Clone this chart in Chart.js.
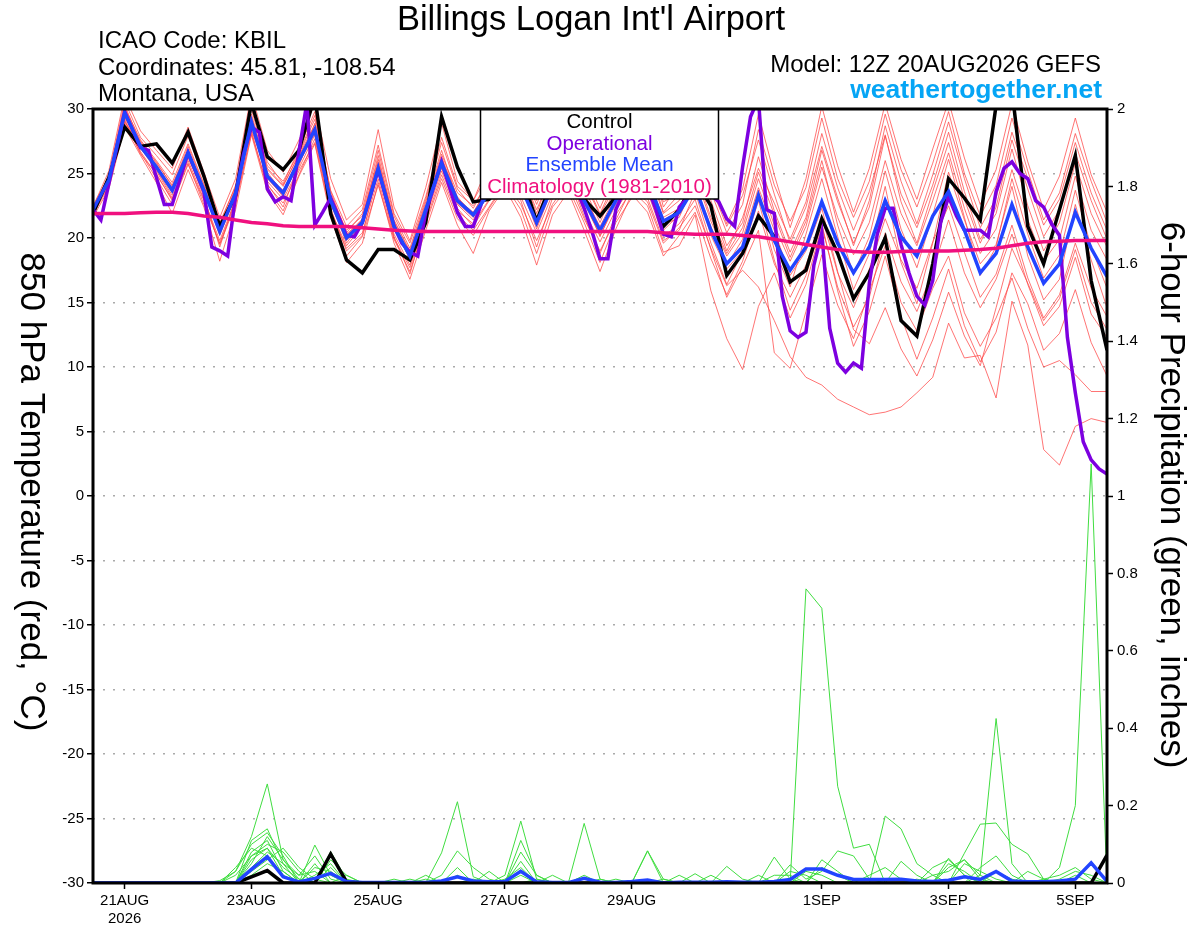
<!DOCTYPE html>
<html>
<head>
<meta charset="utf-8">
<script src="https://cdn.jsdelivr.net/npm/chart.js@4.4.1/dist/chart.umd.min.js"></script>
<style>
  html, body { margin: 0; padding: 0; background: #fff; }
  canvas { display: block; }
</style>
</head>
<body>
<canvas id="chart" width="1200" height="927"></canvas>
<script>
// GEFS run 12Z 20AUG2026, steps every 6 h from hour 0 to hour 384
const tickHours = [12, 60, 108, 156, 204, 276, 324, 372];
const tickLabels = [['21AUG', '2026'], '23AUG', '25AUG', '27AUG', '29AUG', '1SEP', '3SEP', '5SEP'];
const tempTicks = [-30, -25, -20, -15, -10, -5, 0, 5, 10, 15, 20, 25, 30];
const precipTicks = [0, 0.2, 0.4, 0.6, 0.8, 1, 1.2, 1.4, 1.6, 1.8, 2];

// 850 hPa temperature, deg C
const controlTemp = [
  21.9, 24.7, 28.6, 27.1, 27.3, 25.8, 28.2, 24.8,
  20.9, 23.3, 30.5, 26.3, 25.3, 26.8, 31.0, 21.9,
  18.3, 17.3, 19.1, 19.1, 18.3, 21.2, 29.4, 25.5,
  22.8, 23.0, 24.5, 25.0, 21.3, 24.5, 25.5, 23.0,
  21.7, 23.2, 25.0, 24.5, 20.9, 22.2, 24.5, 22.5,
  17.1, 18.8, 21.7, 20.1, 16.6, 17.5, 21.5, 18.8,
  15.3, 17.3, 20.0, 13.6, 12.4, 18.0, 24.6, 23.1,
  21.4, 30.3, 31.5, 20.9, 18.0, 22.2, 26.4, 16.7,
  11.3
];
const meanTemp = [
  22.2, 24.5, 29.7, 27.1, 25.5, 23.7, 26.6, 23.7,
  20.5, 23.5, 29.0, 24.8, 23.5, 26.0, 28.4, 22.9,
  20.0, 21.2, 25.4, 20.9, 18.6, 22.2, 25.8, 22.9,
  21.8, 23.5, 25.0, 24.0, 21.2, 24.0, 25.3, 22.9,
  20.6, 22.9, 24.8, 24.5, 21.3, 22.0, 24.0, 20.6,
  18.0, 19.3, 23.3, 19.8, 17.5, 19.3, 22.8, 19.6,
  17.3, 19.3, 22.9, 20.1, 18.6, 21.7, 23.6, 20.6,
  17.3, 18.8, 22.6, 19.3, 16.5, 18.0, 22.0, 19.2,
  17.0
];
const climoTemp = [
  21.9, 21.9, 21.9, 21.95, 22.0, 22.0, 21.9, 21.7,
  21.6, 21.4, 21.2, 21.1, 20.95, 20.9, 20.9, 20.9,
  20.9, 20.8, 20.7, 20.6, 20.55, 20.5, 20.5, 20.5,
  20.5, 20.5, 20.5, 20.5, 20.5, 20.5, 20.5, 20.5,
  20.5, 20.5, 20.5, 20.5, 20.4, 20.35, 20.3, 20.3,
  20.3, 20.2, 20.1, 19.9, 19.7, 19.5, 19.3, 19.1,
  18.95, 18.9, 18.9, 18.95, 19.0, 19.0, 19.0, 19.05,
  19.1, 19.2, 19.4, 19.6, 19.7, 19.75, 19.8, 19.8,
  19.8
];

// operational run is 3-hourly, listed where its line turns
const opHours = [
  0, 3, 12, 18, 21, 27, 30, 36, 42, 45, 48, 51, 54, 57, 60, 63,
  66, 69, 72, 75, 81, 84, 87, 90, 96, 99, 102, 108, 114, 117, 120, 123,
  126, 132, 138, 141, 144, 147, 150, 156, 162, 168, 174, 180, 186, 189, 192, 195,
  198, 204, 210, 213, 216, 219, 222, 228, 234, 237, 240, 243, 246, 249, 252, 255,
  258, 261, 264, 267, 270, 273, 276, 279, 282, 285, 288, 291, 294, 297, 300, 303,
  306, 309, 312, 315, 318, 321, 324, 327, 330, 333, 336, 339, 342, 345, 348, 351,
  354, 357, 360, 363, 366, 369, 372, 375, 378, 381, 384
];
const opTemp = [
  22.2, 21.4, 29.8, 27.0, 26.8, 22.6, 22.6, 26.6, 23.6, 19.3, 19.0, 18.6, 23.3, 26.5, 28.6, 28.2,
  23.8, 22.8, 23.2, 22.9, 30.5, 21.0, 22.0, 23.1, 20.2, 20.1, 21.2, 25.3, 20.9, 19.6, 18.9, 18.6,
  22.0, 25.9, 22.0, 20.9, 20.9, 22.6, 24.5, 26.0, 24.0, 23.5, 26.0, 25.5, 22.3, 20.5, 18.4, 18.4,
  22.2, 25.0, 24.0, 22.3, 20.3, 20.1, 22.4, 23.8, 23.4, 22.8, 21.5, 20.9, 25.5, 29.4, 30.8, 22.2,
  21.9, 15.5, 12.8, 12.3, 12.7, 17.9, 20.4, 13.0, 10.3, 9.6, 10.3, 9.9, 16.5, 20.3, 22.3, 22.3,
  19.5, 17.3, 15.5, 14.8, 16.7, 21.2, 23.2, 21.7, 20.6, 20.6, 20.6, 20.1, 23.6, 25.4, 25.9, 25.0,
  24.6, 22.9, 22.4, 21.1, 20.2, 12.3, 8.0, 4.2, 2.8, 2.1, 1.7
];

// ensemble members, 850 hPa temperature
const memberTemps = [
  [22.0, 24.9, 30.6, 27.8, 26.4, 24.9, 27.9, 24.6,
   21.0, 24.1, 30.8, 25.9, 24.2, 26.9, 29.8, 23.6,
   20.4, 21.9, 26.8, 21.7, 19.2, 23.0, 27.4, 23.8,
   22.3, 24.6, 27.1, 25.2, 21.9, 25.3, 27.6, 23.9,
   21.2, 24.0, 27.5, 25.9, 22.0, 23.4, 27.0, 22.9,
   19.4, 21.2, 26.3, 22.1, 18.9, 21.6, 26.8, 22.8,
   19.6, 22.4, 27.9, 23.4, 20.8, 24.1, 28.2, 23.6,
   19.9, 21.9, 26.9, 22.5, 19.0, 21.2, 25.8, 21.9,
   19.3],
  [21.8, 24.0, 29.1, 26.5, 25.0, 22.9, 25.8, 22.6,
   19.6, 22.8, 28.1, 24.1, 22.7, 25.2, 27.4, 21.9,
   19.2, 20.4, 24.6, 20.0, 17.7, 21.3, 24.9, 21.8,
   20.6, 22.4, 24.3, 22.6, 19.8, 22.6, 24.4, 21.5,
   19.0, 21.4, 23.9, 22.8, 19.6, 20.8, 22.5, 19.2,
   16.3, 17.5, 16.2, 13.6, 10.8, 9.2, 8.6, 7.5,
   6.9, 6.3, 6.5, 6.9, 8.0, 9.2, 13.4, 10.7,
   10.9, 7.6, 15.1, 11.7, 3.6, 2.4, 5.4, 6.0,
   5.7],
  [22.3, 24.3, 29.9, 27.0, 25.2, 23.1, 26.0, 23.0,
   19.8, 23.0, 29.3, 24.4, 23.0, 25.4, 28.0, 22.1,
   19.4, 20.9, 25.0, 20.3, 17.9, 21.6, 25.2, 22.1,
   21.1, 23.0, 24.6, 23.2, 20.4, 23.4, 24.8, 22.1,
   19.7, 22.2, 24.0, 23.6, 20.1, 21.1, 23.0, 19.1,
   15.4, 17.8, 20.6, 11.1, 9.9, 14.3, 18.7, 14.8,
   12.2, 15.9, 19.4, 15.0, 12.8, 16.1, 18.6, 14.2,
   11.6, 13.8, 16.9, 13.0, 10.0, 10.5, 9.4, 8.1,
   8.1],
  [22.1, 24.7, 30.3, 27.4, 25.9, 24.0, 27.1, 24.1,
   20.8, 23.8, 29.6, 25.3, 24.0, 26.5, 29.2, 23.3,
   20.6, 21.7, 26.1, 21.4, 19.0, 22.6, 26.5, 23.5,
   22.5, 24.4, 26.3, 25.1, 22.2, 25.0, 27.0, 24.3,
   21.8, 24.1, 27.3, 26.6, 22.8, 23.5, 27.8, 23.6,
   20.4, 22.6, 28.4, 24.1, 21.3, 23.9, 29.3, 24.6,
   21.6, 24.4, 29.6, 25.3, 22.4, 25.8, 29.8, 25.0,
   21.7, 24.1, 29.3, 25.2, 21.4, 23.5, 28.1, 24.4,
   21.2],
  [21.6, 23.8, 28.6, 26.4, 24.3, 21.9, 25.3, 22.4,
   18.2, 22.2, 28.0, 23.6, 21.8, 24.8, 27.3, 21.6,
   18.1, 19.6, 24.3, 19.6, 16.8, 20.6, 24.3, 21.0,
   18.8, 22.1, 23.9, 21.6, 17.9, 21.8, 23.6, 20.6,
   17.4, 20.7, 23.4, 22.0, 18.6, 20.2, 22.0, 18.4,
   15.6, 18.2, 22.1, 18.0, 15.4, 17.9, 21.6, 17.3,
   14.6, 17.6, 21.5, 18.3, 16.1, 19.7, 22.5, 18.9,
   15.4, 17.2, 21.0, 16.9, 13.8, 15.6, 19.6, 16.1,
   13.9],
  [22.4, 25.2, 31.0, 28.3, 26.8, 25.4, 28.6, 25.1,
   21.6, 24.6, 31.2, 26.8, 25.1, 27.6, 30.4, 24.6,
   21.4, 22.6, 28.4, 22.4, 19.8, 23.9, 28.9, 24.4,
   22.9, 25.8, 28.6, 26.3, 22.9, 26.1, 29.1, 25.0,
   22.3, 25.2, 28.9, 27.4, 22.4, 24.2, 29.4, 24.8,
   21.1, 23.8, 29.6, 24.9, 20.8, 24.6, 30.2, 25.6,
   22.0, 25.4, 30.4, 26.1, 23.0, 26.9, 30.6, 26.2,
   22.6, 25.3, 30.4, 25.9, 22.2, 24.8, 29.3, 24.9,
   22.0],
  [22.0, 24.4, 29.4, 26.9, 25.6, 23.8, 26.9, 23.8,
   20.3, 23.2, 28.7, 24.6, 23.3, 25.8, 28.1, 22.6,
   19.8, 21.0, 25.1, 20.7, 18.4, 22.0, 25.6, 22.6,
   21.4, 23.6, 25.4, 24.3, 20.9, 24.1, 25.8, 22.7,
   20.2, 22.6, 24.7, 24.9, 21.0, 21.6, 24.4, 20.2,
   17.6, 19.0, 23.7, 19.1, 16.2, 20.3, 24.6, 20.1,
   16.0, 18.8, 24.0, 18.1, 14.9, 19.6, 25.1, 21.4,
   18.0, 19.5, 24.0, 18.6, 15.2, 16.8, 22.6, 18.3,
   14.6],
  [22.2, 24.6, 29.0, 27.2, 25.3, 23.3, 26.2, 23.5,
   20.9, 23.6, 28.4, 24.9, 23.7, 26.2, 28.6, 23.1,
   20.2, 21.3, 25.8, 21.1, 18.7, 22.4, 26.1, 23.2,
   21.7, 23.3, 25.8, 23.9, 21.4, 24.4, 26.3, 23.4,
   20.5, 22.8, 25.6, 24.4, 21.6, 22.3, 24.9, 21.3,
   18.6, 20.4, 24.6, 21.0, 18.2, 20.9, 25.5, 21.6,
   18.7, 21.2, 26.0, 21.9, 19.4, 22.9, 26.6, 22.3,
   18.8, 20.7, 25.3, 21.4, 18.2, 19.9, 24.8, 20.6,
   18.3],
  [21.9, 24.2, 29.2, 26.7, 24.9, 23.0, 26.4, 23.2,
   19.3, 23.1, 29.1, 24.2, 22.4, 25.6, 28.9, 22.3,
   19.0, 20.2, 25.3, 20.1, 17.2, 21.4, 25.9, 22.3,
   20.9, 22.9, 25.2, 22.9, 19.3, 23.1, 25.0, 21.7,
   18.8, 21.8, 23.7, 22.5, 18.9, 19.4, 21.8, 15.9,
   12.2, 9.8, 14.7, 17.3, 13.8, 16.4, 20.9, 16.2,
   13.1, 15.4, 20.4, 16.6, 14.3, 17.4, 21.4, 17.3,
   14.6, 16.8, 20.3, 16.4, 13.2, 14.7, 18.5, 14.1,
   12.3],
  [22.5, 24.8, 30.1, 27.6, 26.0, 24.3, 27.3, 24.2,
   21.2, 24.0, 30.0, 25.6, 24.4, 26.6, 29.5, 23.7,
   20.9, 22.2, 27.2, 21.9, 19.6, 23.2, 27.8, 24.0,
   22.9, 25.1, 27.6, 25.6, 22.6, 25.7, 28.4, 24.6,
   21.9, 24.6, 28.2, 26.9, 23.1, 24.1, 28.6, 24.0,
   20.9, 23.3, 27.6, 23.4, 19.6, 22.4, 27.1, 23.1,
   19.4, 22.9, 28.7, 24.4, 21.1, 24.9, 29.0, 24.6,
   20.8, 23.1, 28.2, 24.6, 21.0, 23.0, 27.4, 23.5,
   20.6],
  [22.0, 24.1, 28.9, 26.6, 24.6, 22.6, 25.7, 22.9,
   19.5, 22.6, 28.3, 23.8, 22.1, 24.9, 27.7, 22.0,
   18.6, 20.1, 24.1, 19.9, 17.4, 21.1, 24.6, 21.5,
   20.2, 22.3, 24.1, 22.2, 18.8, 22.4, 23.9, 21.2,
   18.1, 21.2, 23.1, 23.1, 19.8, 20.6, 23.6, 19.6,
   16.4, 18.9, 22.9, 18.3, 14.4, 17.1, 21.1, 15.9,
   11.6, 14.3, 18.6, 13.9, 10.6, 13.8, 17.6, 13.2,
   10.4, 12.7, 17.3, 14.9, 11.3, 12.6, 16.0, 11.9,
   9.3],
  [22.3, 24.5, 29.6, 27.3, 25.7, 23.6, 26.5, 23.9,
   20.6, 23.9, 29.4, 25.1, 23.5, 26.3, 28.6, 23.0,
   20.1, 21.5, 26.4, 21.3, 18.9, 22.8, 26.8, 23.0,
   22.0, 24.0, 26.8, 24.6, 21.6, 24.8, 26.9, 23.2,
   20.9, 23.3, 26.4, 25.4, 21.9, 22.9, 26.2, 22.4,
   19.0, 21.6, 25.4, 22.7, 19.9, 22.8, 28.1, 23.9,
   20.6, 23.6, 28.0, 22.8, 19.6, 23.6, 27.4, 23.0,
   19.6, 22.4, 27.6, 23.8, 20.1, 22.2, 26.6, 22.9,
   19.9],
  [21.8, 24.4, 29.8, 27.0, 25.4, 23.5, 26.7, 23.6,
   20.2, 23.4, 28.9, 24.7, 23.2, 25.9, 28.3, 22.8,
   19.6, 21.2, 25.6, 21.0, 18.3, 22.1, 25.4, 22.7,
   21.6, 23.8, 25.7, 24.1, 20.7, 23.9, 26.1, 23.0,
   20.1, 22.9, 25.2, 24.2, 20.6, 21.8, 24.1, 20.9,
   17.9, 19.9, 23.9, 20.6, 17.1, 19.0, 22.3, 17.4,
   12.9, 11.8, 14.6, 11.4, 9.3, 12.1, 15.8, 12.4,
   10.1, 14.6, 19.2, 16.5, 13.6, 15.3, 19.1, 15.0,
   12.9],
  [22.1, 24.6, 29.3, 27.5, 25.8, 24.1, 26.8, 23.7,
   20.4, 23.7, 29.2, 25.4, 24.1, 26.4, 28.8, 23.4,
   20.3, 21.4, 25.9, 21.2, 18.5, 22.3, 26.3, 23.1,
   21.9, 24.2, 26.1, 24.8, 21.1, 24.6, 26.5, 23.6,
   20.6, 23.1, 25.9, 25.0, 21.4, 22.1, 25.2, 21.6,
   18.8, 20.8, 25.1, 21.8, 18.5, 21.3, 26.0, 21.0,
   17.2, 20.1, 25.2, 20.7, 17.7, 21.8, 26.1, 21.6,
   17.1, 19.3, 24.6, 20.3, 16.9, 18.7, 23.7, 19.3,
   16.1]
];

// 6-hour precipitation, inches
const controlPrecip = [
  0, 0, 0, 0, 0, 0, 0, 0,
  0, 0, 0.016, 0.032, 0, 0, 0, 0.075,
  0.003, 0, 0, 0, 0, 0, 0, 0,
  0, 0, 0, 0, 0, 0, 0, 0,
  0, 0, 0, 0, 0, 0, 0, 0,
  0, 0, 0, 0, 0, 0, 0, 0,
  0, 0, 0, 0, 0, 0, 0, 0,
  0, 0, 0, 0, 0, 0, 0, 0,
  0.072
];
const meanPrecip = [
  0, 0, 0, 0, 0, 0, 0, 0,
  0, 0, 0.035, 0.068, 0.016, 0.003, 0.012, 0.025,
  0.004, 0.001, 0.001, 0.001, 0.001, 0.001, 0.005, 0.016,
  0.005, 0.003, 0.004, 0.03, 0.003, 0.001, 0.001, 0.012,
  0.002, 0.001, 0.004, 0.008, 0, 0.002, 0.002, 0.002,
  0.003, 0.002, 0.002, 0.004, 0.009, 0.036, 0.036, 0.02,
  0.009, 0.009, 0.009, 0.01, 0.005, 0.004, 0.007, 0.016,
  0.009, 0.03, 0.005, 0.003, 0.003, 0.005, 0.01, 0.052,
  0.004
];
const memberPrecip = [
  [0, 0, 0, 0, 0, 0, 0, 0,
   0, 0.03, 0.12, 0.256, 0.06, 0.01, 0, 0,
   0, 0, 0, 0, 0, 0, 0.078, 0.21,
   0.016, 0, 0, 0, 0, 0, 0, 0,
   0, 0, 0, 0, 0, 0, 0, 0,
   0, 0, 0, 0, 0, 0.76, 0.71, 0.25,
   0.09, 0.10, 0, 0, 0, 0, 0, 0,
   0, 0, 0, 0, 0, 0, 0, 0,
   0],
  [0, 0, 0, 0, 0, 0, 0, 0,
   0, 0, 0.11, 0.14, 0.05, 0, 0.098, 0.02,
   0, 0, 0, 0, 0, 0, 0, 0,
   0, 0, 0.02, 0.16, 0.01, 0, 0, 0,
   0, 0, 0, 0, 0, 0, 0, 0,
   0, 0, 0, 0, 0, 0, 0, 0,
   0, 0, 0.173, 0.14, 0.05, 0.02, 0, 0,
   0, 0, 0, 0, 0, 0, 0, 0,
   0],
  [0, 0, 0, 0, 0, 0, 0, 0,
   0, 0, 0.08, 0.11, 0.03, 0, 0, 0.081,
   0.01, 0, 0, 0, 0, 0, 0.02, 0.083,
   0.04, 0.01, 0, 0, 0, 0, 0, 0.154,
   0.01, 0, 0, 0, 0, 0, 0, 0,
   0, 0, 0, 0, 0, 0, 0, 0,
   0, 0, 0, 0, 0, 0, 0, 0,
   0.02, 0.425, 0.05, 0, 0, 0, 0, 0,
   0],
  [0, 0, 0, 0, 0, 0, 0, 0,
   0, 0.04, 0.09, 0.07, 0.02, 0, 0.05, 0,
   0, 0, 0, 0, 0, 0, 0, 0,
   0, 0, 0, 0.11, 0.02, 0, 0, 0,
   0, 0, 0, 0.083, 0.01, 0, 0, 0,
   0, 0, 0, 0, 0, 0, 0, 0,
   0, 0, 0, 0, 0, 0, 0, 0.077,
   0.152, 0.155, 0.10, 0.075, 0.01, 0, 0, 0,
   0],
  [0, 0, 0, 0, 0, 0, 0, 0,
   0, 0, 0.06, 0.09, 0.04, 0.01, 0, 0.04,
   0, 0, 0, 0, 0.01, 0, 0, 0,
   0, 0, 0, 0.056, 0, 0, 0, 0,
   0, 0, 0, 0.083, 0, 0, 0, 0,
   0, 0, 0, 0.067, 0.01, 0, 0, 0,
   0, 0, 0, 0, 0, 0, 0.064, 0.02,
   0, 0, 0, 0, 0, 0.04, 0.2, 1.083,
   0],
  [0, 0, 0, 0, 0, 0, 0, 0,
   0, 0, 0.05, 0.12, 0.06, 0.02, 0.03, 0,
   0, 0, 0, 0, 0, 0, 0, 0,
   0, 0.03, 0, 0.034, 0, 0, 0, 0,
   0, 0, 0, 0, 0, 0, 0.024, 0,
   0, 0, 0, 0, 0.047, 0.01, 0.03, 0.083,
   0.07, 0.01, 0, 0, 0, 0, 0.05, 0.03,
   0, 0, 0, 0, 0, 0, 0, 0,
   0],
  [0, 0, 0, 0, 0, 0, 0, 0,
   0, 0.02, 0.07, 0.10, 0.08, 0.03, 0, 0,
   0, 0, 0, 0, 0, 0.01, 0, 0,
   0, 0, 0, 0, 0, 0.02, 0, 0,
   0, 0, 0, 0, 0, 0, 0, 0,
   0.043, 0.01, 0, 0, 0, 0, 0.04, 0.02,
   0, 0, 0, 0, 0, 0.02, 0.03, 0.06,
   0.01, 0, 0, 0, 0, 0, 0.02, 0,
   0],
  [0, 0, 0, 0, 0, 0, 0, 0,
   0.006, 0.03, 0.10, 0.13, 0.07, 0, 0.02, 0.05,
   0, 0, 0, 0, 0, 0, 0, 0.04,
   0, 0, 0, 0.02, 0, 0, 0, 0.02,
   0, 0, 0, 0, 0, 0.02, 0, 0,
   0, 0, 0, 0, 0.03, 0.02, 0, 0,
   0, 0, 0, 0.056, 0.02, 0, 0, 0,
   0, 0.03, 0.01, 0, 0, 0, 0, 0,
   0],
  [0, 0, 0, 0, 0, 0, 0, 0,
   0, 0, 0.04, 0.08, 0.05, 0.02, 0.07, 0.01,
   0, 0, 0, 0, 0, 0, 0, 0,
   0, 0, 0.01, 0.04, 0, 0, 0, 0,
   0, 0.01, 0, 0, 0, 0, 0, 0,
   0, 0, 0.02, 0, 0, 0.03, 0.02, 0,
   0, 0, 0, 0, 0, 0.04, 0.06, 0.02,
   0, 0, 0, 0.03, 0.01, 0, 0, 0,
   0],
  [0, 0, 0, 0, 0, 0, 0, 0,
   0, 0, 0.03, 0.06, 0.09, 0.04, 0.01, 0,
   0.02, 0, 0, 0, 0, 0, 0, 0,
   0.01, 0, 0, 0, 0.01, 0, 0, 0,
   0, 0, 0, 0, 0.01, 0, 0, 0,
   0, 0, 0, 0, 0, 0, 0.06, 0.03,
   0, 0, 0, 0, 0.01, 0, 0, 0.05,
   0.03, 0.01, 0, 0, 0, 0.01, 0.03, 0.02,
   0],
  [0, 0, 0, 0, 0, 0, 0, 0,
   0, 0, 0.07, 0.09, 0.02, 0, 0.04, 0.03,
   0, 0, 0, 0.01, 0, 0.02, 0, 0,
   0, 0, 0, 0.08, 0.02, 0, 0, 0,
   0, 0, 0, 0, 0, 0, 0, 0.02,
   0, 0, 0, 0, 0, 0, 0, 0,
   0, 0.02, 0.04, 0.01, 0, 0, 0, 0,
   0.04, 0.07, 0.02, 0, 0, 0, 0, 0,
   0],
  [0, 0, 0, 0, 0, 0, 0, 0,
   0, 0, 0.02, 0.05, 0.03, 0, 0, 0.06,
   0.02, 0, 0, 0, 0, 0, 0, 0.02,
   0, 0, 0, 0, 0, 0, 0, 0,
   0.01, 0, 0, 0, 0, 0, 0, 0,
   0, 0, 0, 0.02, 0.02, 0, 0, 0,
   0, 0, 0, 0, 0, 0, 0.04, 0.06,
   0.02, 0, 0, 0, 0.01, 0.02, 0.04, 0.01,
   0]
];

const FONT = '"Liberation Sans", Arial, Helvetica, sans-serif';

const sixHourly = vals => vals.map((v, i) => ({ x: i * 6, y: v }));

const lineSet = (data, color, width, axis) => ({
  data: data,
  borderColor: color,
  borderWidth: width,
  yAxisID: axis,
  pointRadius: 0,
  tension: 0,
  fill: false,
  clip: 0,
});

// first dataset in the list is painted on top
const datasets = [
  lineSet(sixHourly(climoTemp), '#f0107f', 3.5, 'yT'),
  lineSet(sixHourly(meanTemp), '#2244ff', 3.5, 'yT'),
  lineSet(opHours.map((h, i) => ({ x: h, y: opTemp[i] })), '#7d00e0', 3.5, 'yT'),
  lineSet(sixHourly(controlTemp), '#000000', 3.5, 'yT'),
  lineSet(sixHourly(meanPrecip), '#2244ff', 3.5, 'yP'),
  lineSet(sixHourly(controlPrecip), '#000000', 3.5, 'yP'),
];
memberPrecip.forEach(m => datasets.push(lineSet(sixHourly(m), '#40dd40', 1, 'yP')));
memberTemps.forEach(m => datasets.push(lineSet(sixHourly(m), 'rgba(255,70,70,0.75)', 1, 'yT')));

const decor = {
  id: 'decor',
  afterDatasetsDraw(chart) {
    const { ctx, chartArea: a } = chart;
    ctx.save();

    // legend box
    const bx = 480.5, bw = 238, bh = 90;
    ctx.fillStyle = '#fff';
    ctx.fillRect(bx, a.top, bw, bh);
    ctx.strokeStyle = '#000';
    ctx.lineWidth = 1.5;
    ctx.strokeRect(bx, a.top, bw, bh);
    ctx.font = '20.5px ' + FONT;
    ctx.textAlign = 'center';
    ctx.textBaseline = 'alphabetic';
    const cx = bx + bw / 2;
    [['Control', '#000'], ['Operational', '#7d00e0'], ['Ensemble Mean', '#2244ff'],
     ['Climatology (1981-2010)', '#f0107f']].forEach(([t, c], k) => {
      ctx.fillStyle = c;
      ctx.fillText(t, cx, a.top + 19 + k * 21.5);
    });

    // plot frame
    ctx.lineWidth = 3;
    ctx.strokeRect(a.left, a.top, a.right - a.left, a.bottom - a.top);
    ctx.restore();
  },
  afterDraw(chart) {
    const { ctx, chartArea: a } = chart;
    ctx.save();
    ctx.fillStyle = '#000';
    ctx.textBaseline = 'alphabetic';

    ctx.font = '34.5px ' + FONT;
    ctx.textAlign = 'center';
    ctx.fillText("Billings Logan Int'l Airport", 591, 30);

    ctx.font = '24px ' + FONT;
    ctx.textAlign = 'left';
    ctx.fillText('ICAO Code: KBIL', 98, 48);
    ctx.fillText('Coordinates: 45.81, -108.54', 98, 74.5);
    ctx.fillText('Montana, USA', 98, 101);

    ctx.textAlign = 'right';
    ctx.fillText('Model: 12Z 20AUG2026 GEFS', 1101, 72);
    ctx.font = 'bold 26.5px ' + FONT;
    ctx.fillStyle = '#05a5f5';
    ctx.fillText('weathertogether.net', 1102, 98);

    // axis titles, both read top to bottom
    ctx.fillStyle = '#000';
    ctx.font = '35px ' + FONT;
    ctx.textAlign = 'center';
    ctx.textBaseline = 'middle';
    ctx.save();
    ctx.translate(31, 492);
    ctx.rotate(Math.PI / 2);
    ctx.fillText('850 hPa Temperature (red, \u00B0C)', 0, 0);
    ctx.restore();
    ctx.save();
    ctx.translate(1171, 495);
    ctx.rotate(Math.PI / 2);
    ctx.fillText('6-hour Precipitation (green, inches)', 0, 0);
    ctx.restore();

    ctx.restore();
  }
};

new Chart(document.getElementById('chart').getContext('2d'), {
  type: 'line',
  data: { datasets: datasets },
  options: {
    responsive: false,
    animation: false,
    layout: { padding: { top: 109, left: 0, right: 0, bottom: 0 } },
    plugins: { legend: { display: false }, tooltip: { enabled: false } },
    scales: {
      x: {
        type: 'linear',
        min: 0,
        max: 384,
        afterBuildTicks: s => { s.ticks = tickHours.map(v => ({ value: v })); },
        afterFit: s => { s.height = 44; },
        ticks: {
          autoSkip: false,
          maxRotation: 0,
          padding: 3,
          color: '#000',
          font: { family: FONT, size: 15 },
          callback: v => tickLabels[tickHours.indexOf(v)],
        },
        grid: { drawOnChartArea: false, tickLength: 6, tickColor: '#000', tickWidth: 1.5 },
        border: { display: false },
      },
      yT: {
        type: 'linear',
        position: 'left',
        min: -30,
        max: 30,
        afterBuildTicks: s => { s.ticks = tempTicks.map(v => ({ value: v })); },
        afterFit: s => { s.width = 93; },
        ticks: { padding: 3, color: '#000', font: { family: FONT, size: 15 } },
        grid: { color: '#aaaaaa', lineWidth: 1.5, tickLength: 6, tickColor: '#000', tickWidth: 1.5 },
        border: { display: false, dash: [2, 8] },
      },
      yP: {
        type: 'linear',
        position: 'right',
        min: 0,
        max: 2,
        afterBuildTicks: s => { s.ticks = precipTicks.map(v => ({ value: v })); },
        afterFit: s => { s.width = 93; },
        ticks: {
          padding: 4,
          color: '#000',
          font: { family: FONT, size: 15 },
          callback: v => String(Number(v.toFixed(1))),
        },
        grid: { drawOnChartArea: false, tickLength: 6, tickColor: '#000', tickWidth: 1.5 },
        border: { display: false },
      },
    },
  },
  plugins: [decor],
});
</script>
</body>
</html>
